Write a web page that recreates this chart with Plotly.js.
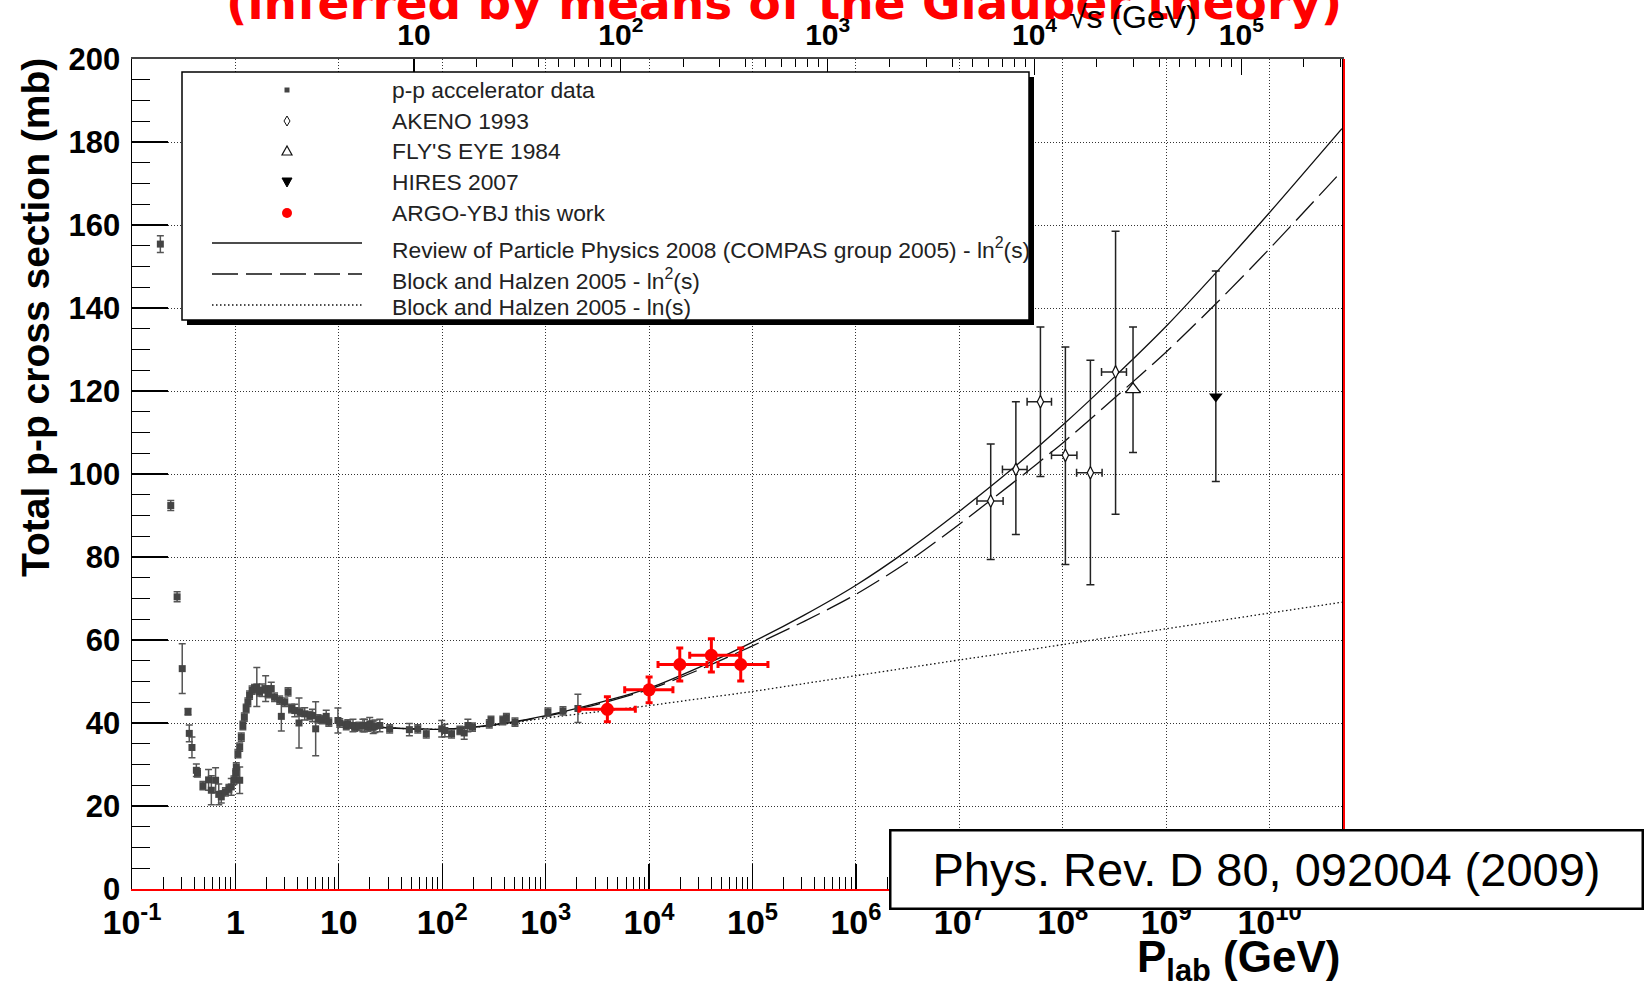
<!DOCTYPE html>
<html>
<head>
<meta charset="utf-8">
<script src="https://cdn.plot.ly/plotly-3.0.1.min.js"></script>
<style>
  html, body { margin: 0; padding: 0; background: #fff; }
  #chart { width: 1647px; height: 985px; }
</style>
</head>
<body>
<div id="chart"></div>
<script>
// ---- p-p accelerator measurements: beam momentum (GeV/c), total cross section (mb), error (mb)
const ppPlab = [
  0.188, 0.237, 0.273, 0.306, 0.348, 0.358, 0.380, 0.419, 0.430, 0.485,
  0.55, 0.585, 0.643, 0.69, 0.73, 0.80, 0.865, 0.912, 0.968, 1.005,
  1.02, 1.057, 1.10, 1.10, 1.14, 1.18, 1.22, 1.27, 1.32, 1.37,
  1.45, 1.53, 1.61, 1.71, 1.81, 1.96, 2.07, 2.22, 2.39, 2.68,
  2.78, 3.0, 3.23, 3.49, 3.75, 4.12, 4.22, 4.68, 5.24, 5.56,
  5.97, 6.29, 6.94, 7.55, 8.0, 9.8, 10.2, 11.8, 12.2, 13.7,
  14.2, 15.6, 17.1, 17.7, 19.2, 19.9, 21.5, 22.3, 24.9, 31.0,
  48.1, 58.0, 70.1, 98.8, 106, 123, 148, 163, 177, 196,
  285, 296, 385, 417, 505, 1052, 1470, 2050
];
const ppSigma = [
  155.4, 92.4, 70.4, 53.1, 42.7, 37.5, 34.1, 28.6, 28.0, 24.9,
  26.3, 23.8, 26.2, 22.8, 22.2, 23.4, 24.2, 24.6, 26.2, 27.9,
  29.4, 32.6, 26.2, 34.2, 36.6, 39.4, 41.4, 43.5, 45.0, 46.7,
  47.9, 48.3, 48.7, 47.5, 47.9, 48.3, 47.1, 48.3, 46.2, 45.5,
  41.6, 45.0, 47.5, 43.5, 43.0, 40.0, 42.6, 42.2, 41.8, 41.8,
  38.6, 41.0, 40.8, 41.6, 40.2, 40.6, 40.0, 39.4, 39.8, 39.4,
  39.0, 39.2, 39.4, 39.4, 39.0, 39.8, 39.0, 39.2, 39.4, 38.6,
  38.4, 38.6, 37.4, 38.6, 38.2, 37.4, 38.2, 37.6, 39.4, 39.0,
  39.8, 40.6, 40.6, 41.3, 40.2, 42.6, 42.9, 43.5
];
const ppErr = [
  2.0, 1.2, 1.2, 6.0, 0.8, 2.0, 2.5, 1.5, 1.0, 1.0,
  2.5, 3.5, 3.0, 2.5, 1.5, 1.0, 1.0, 2.0, 1.0, 1.0,
  1.0, 1.0, 3.2, 1.0, 1.0, 1.0, 1.0, 1.0, 1.0, 1.0,
  1.0, 1.0, 4.7, 1.0, 1.5, 3.1, 1.0, 1.5, 1.0, 1.0,
  3.5, 1.0, 1.0, 1.0, 1.5, 6.0, 1.0, 1.5, 1.0, 1.5,
  6.5, 1.0, 1.0, 1.5, 1.0, 3.0, 1.0, 1.0, 1.0, 1.5,
  1.0, 1.0, 1.5, 1.5, 1.0, 1.5, 1.5, 1.5, 1.5, 1.0,
  1.5, 1.0, 1.0, 2.0, 1.5, 1.0, 1.0, 1.5, 1.5, 1.0,
  1.0, 1.0, 1.0, 1.0, 1.0, 1.0, 1.0, 3.4
];

// ---- AKENO 1993
const akenoPlab   = [2.01e7, 3.52e7, 6.08e7, 1.06e8, 1.85e8, 3.24e8];
const akenoPlabLo = [1.48e7, 2.61e7, 4.52e7, 7.78e7, 1.36e8, 2.37e8];
const akenoPlabHi = [2.65e7, 4.52e7, 7.78e7, 1.37e8, 2.40e8, 4.13e8];
const akenoSigma   = [93.5, 101.1, 117.4, 104.5, 100.3, 124.6];
const akenoSigmaLo = [79.4, 85.4, 99.4, 78.2, 73.3, 90.3];
const akenoSigmaHi = [107.2, 117.4, 135.4, 130.6, 127.4, 158.5];

// ---- Fly's Eye 1984
const flyPlab = [4.78e8];
const flySigma = [120.4];
const flySigmaLo = [105.2];
const flySigmaHi = [135.4];

// ---- HiRes 2007
const hiresPlab = [3.02e9];
const hiresSigma = [118.7];
const hiresSigmaLo = [98.2];
const hiresSigmaHi = [148.9];

// ---- ARGO-YBJ (this work)
const argoPlab   = [3950, 10000, 19800, 40000, 76900];
const argoPlabLo = [2100, 5810, 12200, 24700, 46400];
const argoPlabHi = [7360, 17000, 36300, 75200, 141000];
const argoSigma  = [43.3, 48.0, 54.1, 56.3, 54.1];
const argoErr    = [3.0, 3.1, 4.0, 4.0, 4.0];

// ---- fitted parametrisations, sampled in P_lab
const fitPlab = [1e1, 1.78e1, 3.16e1, 1e2, 3.16e2, 1e3, 3.16e3, 1e4, 3.16e4, 1e5, 3.16e5,
                 1e6, 3.16e6, 1e7, 3.16e7, 1e8, 3.16e8, 1e9, 3.16e9, 1e10, 5e10];
const rppLn2   = [40.0, 39.3, 38.8, 38.5, 39.6, 41.8, 44.8, 48.4, 53.6, 59.5, 66.0,
                  73.2, 81.6, 91.0, 101.0, 111.8, 123.4, 135.6, 149.0, 163.0, 183.2];
const blockLn2 = [40.0, 39.3, 38.8, 38.5, 39.5, 41.6, 44.5, 48.1, 53.0, 58.6, 64.5,
                  71.0, 78.8, 87.9, 97.5, 107.5, 118.3, 129.4, 141.5, 154.3, 173.0];
const blockLn  = [40.0, 39.3, 38.8, 38.5, 39.4, 41.2, 42.7, 44.2, 45.9, 47.6, 49.5,
                  51.4, 53.3, 55.2, 57.0, 58.9, 60.8, 62.7, 64.6, 66.5, 69.1];

// ---- axis ticks
const plabTicks = [1e-1, 1, 1e1, 1e2, 1e3, 1e4, 1e5, 1e6, 1e7, 1e8, 1e9, 1e10];
const plabTickText = ['10<sup>-1</sup>', '1', '10', '10<sup>2</sup>', '10<sup>3</sup>', '10<sup>4</sup>',
  '10<sup>5</sup>', '10<sup>6</sup>', '10<sup>7</sup>', '10<sup>8</sup>', '10<sup>9</sup>', '10<sup>10</sup>'];
const sqrtsTicks = [1e1, 1e2, 1e3, 1e4, 1e5];
const sqrtsTickText = ['10', '10<sup>2</sup>', '10<sup>3</sup>', '10<sup>4</sup>', '10<sup>5</sup>'];

const legendLabels = [
  'p-p accelerator data', 'AKENO 1993', "FLY'S EYE 1984", 'HIRES 2007', 'ARGO-YBJ this work',
  'Review of Particle Physics 2008 (COMPAS group 2005) - ln<sup>2</sup>(s)',
  'Block and Halzen 2005 - ln<sup>2</sup>(s)', 'Block and Halzen 2005 - ln(s)'
];

// ---- page geometry
const W = 1647, H = 985, ML = 132, MR = 305, MT = 59, MB = 96;
const PW = W - ML - MR, PH = H - MT - MB;
const px2x = px => (px - ML) / PW;
const py2y = py => (H - MB - py) / PH;

// minor ticks: 2..9 within each decade
function minorTicks(fromExp, toExp, maxVal) {
  const out = [];
  for (let e = fromExp; e <= toExp; e++) {
    for (let k = 2; k <= 9; k++) {
      const v = k * Math.pow(10, e);
      if (v < maxVal) out.push(v);
    }
  }
  return out;
}

// P_lab -> sqrt(s) mapping for the top axis (fixed target, high-energy limit)
const mp = 0.938272;
const logTwoM = Math.log10(2 * mp);
const plabRange = [-1, 10.7];
const sqrtsRange = plabRange.map(l => 0.5 * (l + logTwoM));

const ppColor = '#444444';
const textFont = 'Liberation Sans, Arial, Helvetica, sans-serif';

const traces = [
  { x: fitPlab, y: rppLn2, mode: 'lines', line: { color: '#111', width: 1.3, shape: 'spline', smoothing: 0.8 } },
  { x: fitPlab, y: blockLn2, mode: 'lines', line: { color: '#111', width: 1.3, dash: '26px,8px', shape: 'spline', smoothing: 0.8 } },
  { x: fitPlab, y: blockLn, mode: 'lines', line: { color: '#111', width: 1.3, dash: '1.5px,2.5px', shape: 'spline', smoothing: 0.8 } },
  {
    x: ppPlab, y: ppSigma, mode: 'markers',
    marker: { symbol: 'square', size: 7, color: ppColor },
    error_y: { type: 'data', array: ppErr, color: '#555', thickness: 1.5, width: 3.5 }
  },
  {
    x: akenoPlab, y: akenoSigma, mode: 'markers',
    marker: { symbol: 'diamond-tall', size: 9, color: '#fff', line: { color: '#111', width: 1.2 } },
    error_y: {
      type: 'data', symmetric: false,
      array: akenoSigmaHi.map((v, i) => v - akenoSigma[i]),
      arrayminus: akenoSigma.map((v, i) => v - akenoSigmaLo[i]),
      color: '#222', thickness: 1.5, width: 4
    },
    error_x: {
      type: 'data', symmetric: false,
      array: akenoPlabHi.map((v, i) => v - akenoPlab[i]),
      arrayminus: akenoPlab.map((v, i) => v - akenoPlabLo[i]),
      color: '#222', thickness: 1.5, width: 4
    }
  },
  {
    x: flyPlab, y: flySigma, mode: 'markers',
    marker: { symbol: 'triangle-up', size: 13, color: '#fff', line: { color: '#111', width: 1.3 } },
    error_y: {
      type: 'data', symmetric: false,
      array: flySigmaHi.map((v, i) => v - flySigma[i]),
      arrayminus: flySigma.map((v, i) => v - flySigmaLo[i]),
      color: '#222', thickness: 1.5, width: 4
    }
  },
  {
    x: hiresPlab, y: hiresSigma, mode: 'markers',
    marker: { symbol: 'triangle-down', size: 12, color: '#000' },
    error_y: {
      type: 'data', symmetric: false,
      array: hiresSigmaHi.map((v, i) => v - hiresSigma[i]),
      arrayminus: hiresSigma.map((v, i) => v - hiresSigmaLo[i]),
      color: '#222', thickness: 1.5, width: 4
    }
  },
  {
    x: argoPlab, y: argoSigma, mode: 'markers',
    marker: { symbol: 'circle', size: 13, color: '#ff0000' },
    error_y: { type: 'data', array: argoErr, color: '#ff0000', thickness: 3, width: 3.5 },
    error_x: {
      type: 'data', symmetric: false,
      array: argoPlabHi.map((v, i) => v - argoPlab[i]),
      arrayminus: argoPlab.map((v, i) => v - argoPlabLo[i]),
      color: '#ff0000', thickness: 3, width: 3.5
    }
  }
].map(t => Object.assign({ type: 'scatter', showlegend: false, hoverinfo: 'skip', xaxis: 'x', yaxis: 'y' }, t));

// legend box, drawn by hand in the ROOT style
const legendRows = [90, 121, 151, 182, 213, 249, 279, 307];
const legendSymbolX = px2x(287);
const legendTextX = px2x(390);
const sampleY = [243, 274, 305];
const sampleDash = ['solid', '26px,8px', '1.5px,2.5px'];

const shapes = [
  { type: 'rect', xref: 'paper', yref: 'paper', x0: px2x(187), x1: px2x(1034), y0: py2y(325), y1: py2y(77),
    fillcolor: '#000', line: { width: 0 }, layer: 'above' },
  { type: 'rect', xref: 'paper', yref: 'paper', x0: px2x(182), x1: px2x(1029), y0: py2y(320), y1: py2y(72),
    fillcolor: '#fff', line: { color: '#000', width: 1.5 }, layer: 'above' },
  // red frame edge on the right
  { type: 'line', xref: 'paper', yref: 'paper', xsizemode: 'pixel', xanchor: 1, x0: 2, x1: 2, y0: 0, y1: 1,
    line: { color: '#ff0000', width: 2 }, layer: 'above' }
];
sampleY.forEach((py, i) => {
  shapes.push({ type: 'line', xref: 'paper', yref: 'paper', x0: px2x(212), x1: px2x(362), y0: py2y(py), y1: py2y(py),
    line: { color: '#111', width: 1.3, dash: sampleDash[i] }, layer: 'above' });
});
function symbolShape(row, spec) {
  return Object.assign({ xref: 'paper', yref: 'paper', xsizemode: 'pixel', ysizemode: 'pixel',
    xanchor: legendSymbolX, yanchor: py2y(legendRows[row]), layer: 'above' }, spec);
}
shapes.push(symbolShape(0, { type: 'rect', x0: -2.5, x1: 2.5, y0: -2.5, y1: 2.5, fillcolor: ppColor, line: { width: 0 } }));
shapes.push(symbolShape(1, { type: 'path', path: 'M0,5 L3,0 L0,-5 L-3,0 Z', fillcolor: '#fff', line: { color: '#111', width: 1 } }));
shapes.push(symbolShape(2, { type: 'path', path: 'M-5,-4 L5,-4 L0,5 Z', fillcolor: '#fff', line: { color: '#111', width: 1.2 } }));
shapes.push(symbolShape(3, { type: 'path', path: 'M-5,4 L5,4 L0,-5 Z', fillcolor: '#000', line: { color: '#000', width: 1 } }));
shapes.push(symbolShape(4, { type: 'circle', x0: -5, x1: 5, y0: -5, y1: 5, fillcolor: '#ff0000', line: { width: 0 } }));

const annotations = [
  {
    text: '(inferred by means of the Glauber theory)', xref: 'paper', yref: 'paper',
    x: px2x(784), y: py2y(3), xanchor: 'center', yanchor: 'middle', showarrow: false,
    font: { family: 'DejaVu Sans, sans-serif', size: 47, color: '#ff0000', weight: 'bold' }
  },
  {
    text: '√s (GeV)', xref: 'paper', yref: 'paper',
    x: px2x(1133), y: py2y(17), xanchor: 'center', yanchor: 'middle', showarrow: false,
    font: { family: textFont, size: 32, color: '#000' }
  },
  {
    text: 'Total p-p cross section (mb)', xref: 'paper', yref: 'paper', textangle: -90,
    x: px2x(35), y: py2y(318), xanchor: 'center', yanchor: 'middle', showarrow: false,
    font: { family: textFont, size: 39, color: '#000', weight: 'bold' }
  },
  {
    text: 'P<sub>lab</sub> (GeV)', xref: 'paper', yref: 'paper',
    x: 1, y: py2y(960), xanchor: 'right', yanchor: 'middle', showarrow: false,
    font: { family: textFont, size: 44, color: '#000', weight: 'bold' }
  },
  {
    text: 'Phys. Rev. D 80, 092004 (2009)', xref: 'paper', yref: 'paper',
    x: px2x(1266), y: py2y(869), xanchor: 'center', yanchor: 'middle', showarrow: false,
    width: 750, height: 76, bgcolor: '#fff', bordercolor: '#000', borderwidth: 2.5, borderpad: 0,
    font: { family: textFont, size: 47, color: '#000' }
  }
];
legendLabels.forEach((label, i) => {
  annotations.push({
    text: label, xref: 'paper', yref: 'paper', x: legendTextX, y: py2y(legendRows[i]),
    xanchor: 'left', yanchor: 'middle', showarrow: false,
    font: { family: textFont, size: 22.8, color: '#222' }
  });
});

const gridStyle = { showgrid: true, gridcolor: '#333', gridwidth: 1, griddash: '1px,2px' };

const layout = {
  width: W, height: H,
  margin: { l: ML, r: MR, t: MT, b: MB, pad: 0 },
  paper_bgcolor: '#fff', plot_bgcolor: '#fff',
  showlegend: false, hovermode: false,
  xaxis: Object.assign({
    type: 'log', range: plabRange, tickmode: 'array', tickvals: plabTicks, ticktext: plabTickText,
    ticks: 'inside', ticklen: 25, tickwidth: 1.2, tickcolor: '#000',
    showline: true, linecolor: '#ff0000', linewidth: 2, mirror: false, zeroline: false,
    tickfont: { family: textFont, size: 34, color: '#000', weight: 'bold' },
    ticklabelstandoff: 2,
    minor: { tickvals: minorTicks(-1, 10, 5e10), ticks: 'inside', ticklen: 12, tickwidth: 1, tickcolor: '#000', showgrid: false }
  }, gridStyle),
  xaxis2: {
    type: 'log', range: sqrtsRange, overlaying: 'x', side: 'top', anchor: 'y',
    tickmode: 'array', tickvals: sqrtsTicks, ticktext: sqrtsTickText,
    ticks: 'inside', ticklen: 16, tickwidth: 1.2, tickcolor: '#000',
    showline: true, linecolor: '#444', linewidth: 2, showgrid: false, zeroline: false,
    tickfont: { family: textFont, size: 30, color: '#000', weight: 'bold' },
    minor: { tickvals: minorTicks(1, 5, 3.1e5), ticks: 'inside', ticklen: 8, tickwidth: 1, tickcolor: '#000', showgrid: false }
  },
  yaxis: Object.assign({
    range: [0, 200], tickmode: 'linear', tick0: 0, dtick: 20,
    ticks: 'inside', ticklen: 36, tickwidth: 1.2, tickcolor: '#000',
    showline: true, linecolor: '#000', linewidth: 1.5, mirror: true, zeroline: false,
    tickfont: { family: textFont, size: 31, color: '#000', weight: 'bold' },
    ticklabelstandoff: 4,
    minor: { dtick: 5, tick0: 0, ticks: 'inside', ticklen: 18, tickwidth: 1, tickcolor: '#000', showgrid: false }
  }, gridStyle),
  shapes: shapes,
  annotations: annotations
};

// an empty trace keeps the sqrt(s) axis alive
traces.push({ type: 'scatter', x: [], y: [], xaxis: 'x2', yaxis: 'y', showlegend: false, hoverinfo: 'skip' });

Plotly.newPlot('chart', traces, layout, { staticPlot: true, displayModeBar: false });
</script>
</body>
</html>
